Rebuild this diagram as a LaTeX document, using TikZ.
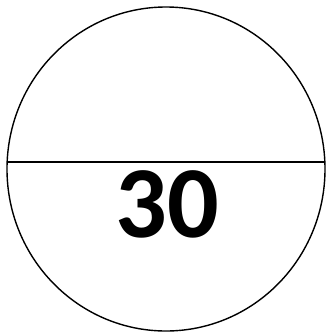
\documentclass[tikz,border=0pt]{standalone}
\usepackage{fontspec}
\newfontfamily\numfont{Carlito}
\begin{document}
\begin{tikzpicture}[x=1pt, y=-1pt, line width=1.4pt]
    \useasboundingbox (0,0) rectangle (325,333);
    % outline and dividing line
    \draw (166,169) ellipse [x radius=159, y radius=162];
    \coordinate (l) at (7.2,162);
    \coordinate (r) at (324.8,162);
    \draw (l) -- (r);

    % value
    \node[inner sep=0pt, font=\numfont\bfseries\fontsize{102}{102}\selectfont] (num) at (167,204) {30};
  \end{tikzpicture}
\end{document}
